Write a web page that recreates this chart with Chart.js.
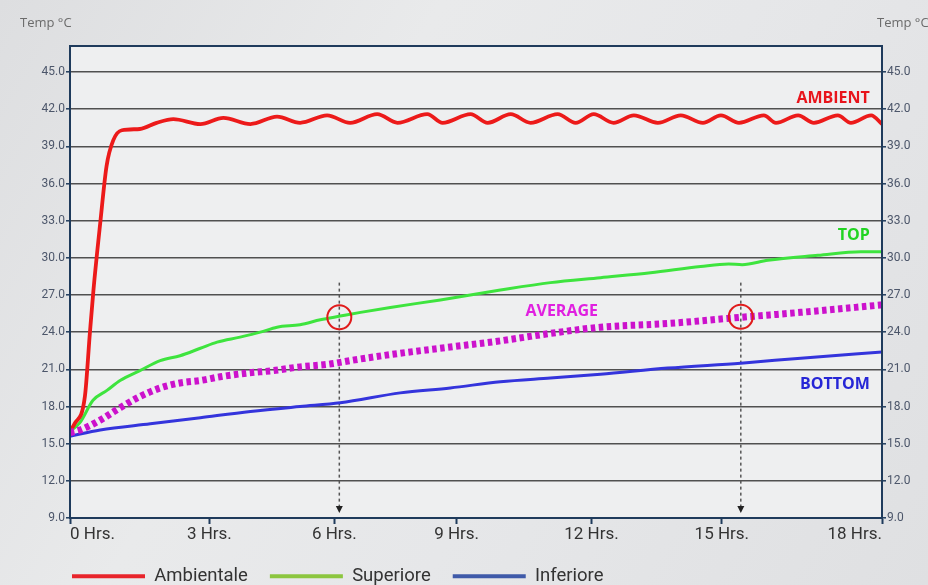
<!DOCTYPE html>
<html>
<head>
<meta charset="utf-8">
<script src="https://cdn.jsdelivr.net/npm/chart.js@4.4.1/dist/chart.umd.min.js"></script>
<style>
  html, body { margin: 0; padding: 0; }
  body {
    width: 928px; height: 585px; overflow: hidden;
    background: linear-gradient(120deg, #dddee0 0%, #e9eaeb 35%, #e6e7e9 60%, #dfe0e2 100%);
  }
  #wrap { position: relative; width: 928px; height: 585px; }
</style>
</head>
<body>
<div id="wrap"><canvas id="chart" width="928" height="585"></canvas></div>
<script>
// tick labels
const tickHours = [0, 3.09, 5.86, 8.57, 11.56, 14.45, 18];
const tickLabels = ['0 Hrs.', '3 Hrs.', '6 Hrs.', '9 Hrs.', '12 Hrs.', '15 Hrs.', '18 Hrs.'];
const tempTicks = [9, 12, 15, 18, 21, 24, 27, 30, 33, 36, 39, 42, 45];

// Ambientale (red)
const ambientHours = [0, 0.1, 0.33, 0.44, 0.52, 0.67, 0.81, 0.96, 1.15, 1.55,
  1.92, 2.29, 2.89, 3.40, 4.00, 4.59, 5.10, 5.70, 6.21, 6.81,
  7.26, 7.92, 8.26, 8.88, 9.26, 9.77, 10.21, 10.81, 11.21, 11.61,
  12.05, 12.50, 13.03, 13.54, 14.03, 14.43, 14.83, 15.38, 15.65, 16.14,
  16.49, 17.02, 17.31, 17.76, 18.0];
const ambientTemps = [16.0, 16.6, 18.8, 23.9, 27.4, 32.8, 37.4, 39.5, 40.3, 40.4,
  40.9, 41.2, 40.8, 41.3, 40.8, 41.4, 40.9, 41.5, 40.9, 41.6,
  40.9, 41.6, 40.9, 41.6, 40.9, 41.6, 40.9, 41.6, 40.9, 41.6,
  40.9, 41.5, 40.9, 41.5, 40.9, 41.5, 40.9, 41.5, 40.9, 41.5,
  40.9, 41.5, 40.9, 41.5, 40.8];

// Superiore (green)
const topHours = [0, 0.22, 0.51, 0.82, 1.11, 1.55, 2.00, 2.44, 2.89, 3.26,
  3.77, 4.22, 4.59, 5.10, 5.55, 5.99, 6.44, 7.10, 8.21, 9.54,
  10.65, 11.76, 12.87, 13.98, 14.60, 14.90, 15.47, 16.58, 17.53, 18.0];
const topTemps = [16.0, 16.7, 18.5, 19.3, 20.1, 20.9, 21.7, 22.1, 22.7, 23.2,
  23.6, 24.0, 24.4, 24.6, 25.0, 25.3, 25.6, 26.0, 26.6, 27.4,
  28.0, 28.4, 28.8, 29.3, 29.5, 29.45, 29.8, 30.2, 30.5, 30.5];

// Inferiore (blue)
const bottomHours = [0, 0.67, 1.78, 2.89, 4.00, 5.10, 5.99, 7.32, 8.43, 9.54,
  10.65, 11.76, 13.25, 14.87, 16.20, 18.0];
const bottomTemps = [15.6, 16.1, 16.6, 17.1, 17.6, 18.0, 18.3, 19.1, 19.5, 20.0,
  20.3, 20.6, 21.1, 21.5, 21.9, 22.4];

// average (magenta dotted)
const averageHours = [0, 0.22, 0.67, 1.11, 1.55, 2.00, 2.44, 2.89, 3.33, 3.93,
  4.51, 5.10, 5.70, 6.37, 7.32, 8.43, 9.54, 10.65, 11.76, 13.25,
  14.87, 16.20, 18.0];
const averageTemps = [15.9, 16.1, 16.9, 17.9, 18.8, 19.5, 19.9, 20.1, 20.4, 20.7,
  20.9, 21.2, 21.4, 21.8, 22.3, 22.8, 23.3, 23.9, 24.4, 24.7,
  25.2, 25.6, 26.2];

// markers (dashed drop lines with circles)
const markerHours = [5.97, 14.87];
const markerCircleTemps = [25.2, 25.25];
const markerTopTemp = 28.0;
const markerTipTemp = 9.4;

const legendNames = ['Ambientale', 'Superiore', 'Inferiore'];
const legendColors = ['#e8242b', '#8cc63f', '#3f5aa9'];

const notes = [
  { text: 'AMBIENT', x: 17.73, y: 42.9, color: '#e8141b', align: 'right' },
  { text: 'TOP', x: 17.73, y: 31.8, color: '#22d422', align: 'right' },
  { text: 'AVERAGE', x: 10.9, y: 25.7, color: '#e020e0', align: 'center' },
  { text: 'BOTTOM', x: 17.73, y: 19.8, color: '#2626d6', align: 'right' }
];

const navy = '#1f3b5c';

function pts(xs, ys) {
  return xs.map((x, i) => ({ x: x, y: ys[i] }));
}

const decor = {
  id: 'decor',
  beforeDraw(chart) {
    const { ctx, chartArea: a } = chart;
    ctx.save();
    ctx.fillStyle = '#eeeff0';
    ctx.fillRect(a.left, a.top, a.right - a.left, a.bottom - a.top);
    ctx.restore();
    chart.legend.left = 50;
  },
  beforeDatasetsDraw(chart) {
    const { ctx } = chart;
    const xs = chart.scales.x, ys = chart.scales.y;
    ctx.save();
    ctx.strokeStyle = '#555';
    ctx.fillStyle = '#222';
    ctx.lineWidth = 1.5;
    markerHours.forEach(h => {
      const px = xs.getPixelForValue(h);
      const tip = ys.getPixelForValue(markerTipTemp);
      ctx.setLineDash([3, 3]);
      ctx.beginPath();
      ctx.moveTo(px, ys.getPixelForValue(markerTopTemp));
      ctx.lineTo(px, tip - 7);
      ctx.stroke();
      ctx.setLineDash([]);
      ctx.beginPath();
      ctx.moveTo(px - 3.5, tip - 7);
      ctx.lineTo(px + 3.5, tip - 7);
      ctx.lineTo(px, tip);
      ctx.closePath();
      ctx.fill();
    });
    ctx.restore();
  },
  afterDatasetsDraw(chart) {
    const { ctx, chartArea: a } = chart;
    const xs = chart.scales.x, ys = chart.scales.y;
    ctx.save();
    ctx.strokeStyle = '#e01b1b';
    ctx.lineWidth = 2;
    markerHours.forEach((h, i) => {
      ctx.beginPath();
      ctx.arc(xs.getPixelForValue(h), ys.getPixelForValue(markerCircleTemps[i]), 12, 0, Math.PI * 2);
      ctx.stroke();
    });
    ctx.font = 'bold 16px "Open Sans"';
    ctx.textBaseline = 'middle';
    notes.forEach(n => {
      ctx.fillStyle = n.color;
      ctx.textAlign = n.align;
      ctx.fillText(n.text, xs.getPixelForValue(n.x), ys.getPixelForValue(n.y));
    });
    ctx.strokeStyle = navy;
    ctx.lineWidth = 2;
    ctx.strokeRect(a.left, a.top, a.right - a.left, a.bottom - a.top);
    ctx.restore();
  },
  afterDraw(chart) {
    const { ctx } = chart;
    ctx.save();
    ctx.font = '13px "Open Sans"';
    ctx.fillStyle = '#6b6b6b';
    ctx.textBaseline = 'middle';
    ctx.textAlign = 'left';
    ctx.fillText('Temp °C', 20, 23);
    ctx.fillText('Temp °C', 877, 23);
    ctx.restore();
  }
};

const tickFont = { family: 'Roboto', size: 12 };
const yAxis = (pos, width, onArea) => ({
  position: pos,
  min: 9,
  max: 47.1,
  afterBuildTicks: s => { s.ticks = tempTicks.map(v => ({ value: v })); },
  afterFit: s => { s.width = width; },
  ticks: { padding: 1, color: '#4c566a', font: tickFont, callback: v => v.toFixed(1) },
  grid: { drawOnChartArea: onArea, color: '#505050', lineWidth: 1.6, tickColor: navy, tickWidth: 1.5, tickLength: 4 },
  border: { color: navy, width: 2 }
});

const config = {
  type: 'line',
  data: {
    datasets: [
      { label: 'Ambientale', data: pts(ambientHours, ambientTemps), borderColor: '#ec1a1a', borderWidth: 3.8, order: 1 },
      { label: 'Superiore', data: pts(topHours, topTemps), borderColor: '#3ee43e', borderWidth: 3, order: 1 },
      { label: 'Inferiore', data: pts(bottomHours, bottomTemps), borderColor: '#3434dc', borderWidth: 3, order: 1 },
      { label: 'Media', data: pts(averageHours, averageTemps), borderColor: '#cc12cc', borderWidth: 7,
        borderDash: [4.5, 3.5], borderCapStyle: 'butt', order: 0 }
    ]
  },
  options: {
    responsive: false,
    animation: false,
    layout: { padding: { top: 46, left: 0, right: 0, bottom: 0 } },
    elements: {
      point: { radius: 0 },
      line: { cubicInterpolationMode: 'monotone', fill: false }
    },
    scales: {
      x: {
        type: 'linear',
        min: 0,
        max: 18,
        afterBuildTicks: s => { s.ticks = tickHours.map(v => ({ value: v })); },
        afterFit: s => { s.height = 27; },
        ticks: {
          autoSkip: false, maxRotation: 0, align: 'inner', padding: 1,
          color: '#333', font: { family: 'Roboto', size: 17 },
          callback: (v, i) => tickLabels[i]
        },
        grid: { drawOnChartArea: false, tickColor: navy, tickWidth: 2, tickLength: 6 },
        border: { color: navy, width: 2 }
      },
      y: yAxis('left', 70, true),
      y2: yAxis('right', 46, false)
    },
    plugins: {
      tooltip: { enabled: false },
      legend: {
        position: 'bottom',
        align: 'start',
        maxHeight: 40,
        labels: {
          boxWidth: 73,
          boxHeight: 4,
          padding: 22,
          color: '#333',
          font: { family: 'Roboto', size: 18.5 },
          generateLabels: () => legendNames.map((t, i) => ({
            text: t, fillStyle: legendColors[i], strokeStyle: legendColors[i],
            lineWidth: 0, hidden: false, datasetIndex: i, fontColor: '#333'
          }))
        }
      }
    }
  },
  plugins: [decor]
};

const myChart = new Chart(document.getElementById('chart'), config);
</script>
</body>
</html>
